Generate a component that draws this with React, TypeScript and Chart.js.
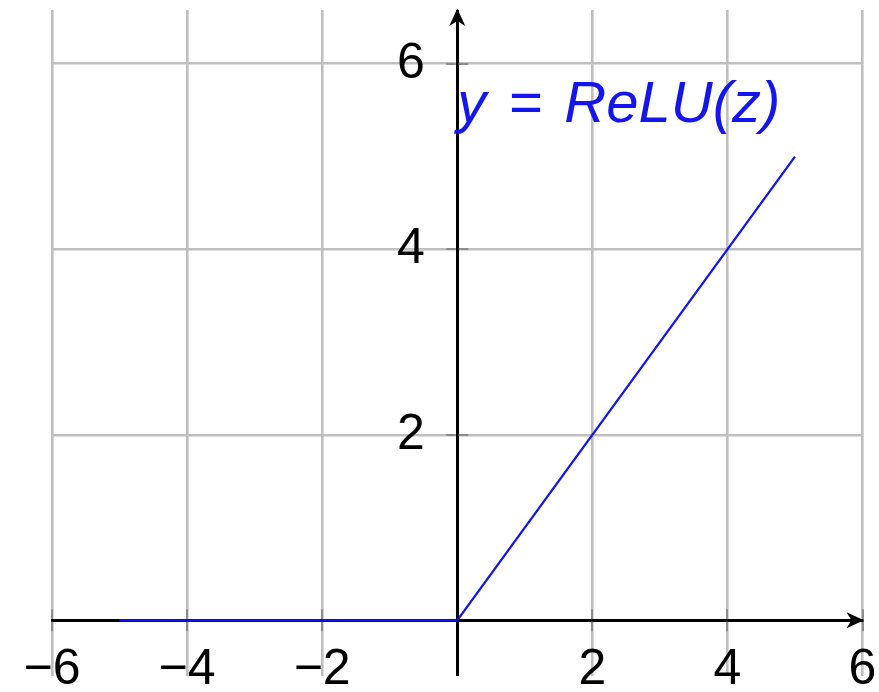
import { useEffect, useRef } from 'react';
import { Chart, registerables } from 'chart.js';

Chart.register(...registerables);

// ReLU curve: flat at zero for negative inputs, identity for positive ones
const reluZ = [-5, 0, 5];
const reluY = [0, 0, 5];

// axis ranges and tick values
const xRange = [-6, 6];
const yRange = [-0.6, 6.58];
const xTickValues = [-6, -4, -2, 0, 2, 4, 6];
const yTickValues = [0, 2, 4, 6];

// y tick labels sit just left of the vertical axis, at this z value
const yLabelColumn = -0.48;

// curve annotation, anchored at the left end of its baseline (data units)
const curveLabel = 'y = ReLU(z)';
const curveLabelAt = [0, 5.37];

const BLUE = '#1515ee';
const GRID = '#bfbfbf';
const TICK_MARK = '#8c8c8c';
const AXIS = '#000';
const AXIS_WIDTH = 3;
const TICK_HALF = 11;
const FONT_FAMILY = "'Liberation Sans', Arial, sans-serif";

const formatTick = (v: number) => (v === 0 ? '' : v < 0 ? '\u2212' + Math.abs(v) : String(v));

const zeroPadding = (scale: any) => {
  scale.paddingLeft = 0;
  scale.paddingRight = 0;
  scale.paddingTop = 0;
  scale.paddingBottom = 0;
};

function drawArrowHead(ctx: CanvasRenderingContext2D, x: number, y: number, angle: number) {
  ctx.save();
  ctx.translate(x, y);
  ctx.rotate(angle);
  ctx.beginPath();
  ctx.moveTo(1.5, 0);
  ctx.lineTo(-16, -8);
  ctx.lineTo(-11, 0);
  ctx.lineTo(-16, 8);
  ctx.closePath();
  ctx.fill();
  ctx.restore();
}

// tick marks centred on both axes, leaving the axis line itself untouched
const axisTickMarks = {
  id: 'axisTickMarks',
  beforeDatasetsDraw(chart: any) {
    const { ctx, scales } = chart;
    const x0 = scales.x.getPixelForValue(0);
    const y0 = scales.y.getPixelForValue(0);
    const gap = AXIS_WIDTH / 2;
    ctx.save();
    ctx.strokeStyle = TICK_MARK;
    ctx.lineWidth = 2;
    ctx.beginPath();
    scales.x.ticks.forEach((t: any) => {
      if (t.value === 0) return;
      const px = Math.round(scales.x.getPixelForValue(t.value));
      ctx.moveTo(px, y0 - TICK_HALF);
      ctx.lineTo(px, y0 - gap);
      ctx.moveTo(px, y0 + gap);
      ctx.lineTo(px, y0 + TICK_HALF);
    });
    scales.y.ticks.forEach((t: any) => {
      if (t.value === 0) return;
      const py = Math.round(scales.y.getPixelForValue(t.value));
      ctx.moveTo(x0 - TICK_HALF, py);
      ctx.lineTo(x0 - gap, py);
      ctx.moveTo(x0 + gap, py);
      ctx.lineTo(x0 + TICK_HALF, py);
    });
    ctx.stroke();
    ctx.restore();
  },
};

const axisDecorations = {
  id: 'axisDecorations',
  afterDraw(chart: any) {
    const { ctx, chartArea, scales } = chart;
    const x0 = scales.x.getPixelForValue(0);
    const y0 = scales.y.getPixelForValue(0);
    ctx.save();
    ctx.fillStyle = AXIS;
    drawArrowHead(ctx, chartArea.right, y0, 0);
    drawArrowHead(ctx, x0, chartArea.top, -Math.PI / 2);

    ctx.font = `italic 58px ${FONT_FAMILY}`;
    ctx.fillStyle = BLUE;
    ctx.textAlign = 'left';
    ctx.textBaseline = 'alphabetic';
    (ctx as any).wordSpacing = '6px';
    ctx.fillText(
      curveLabel,
      scales.x.getPixelForValue(curveLabelAt[0]),
      scales.y.getPixelForValue(curveLabelAt[1])
    );
    ctx.restore();
  },
};

export default function App() {
  const canvasRef = useRef<HTMLCanvasElement>(null);

  useEffect(() => {
    const canvas = canvasRef.current;
    if (!canvas) return;
    const chart = new Chart(canvas, {
      type: 'scatter',
      data: {
        datasets: [
          {
            data: reluZ.map((z, i) => ({ x: z, y: reluY[i] })),
            showLine: true,
            borderColor: BLUE,
            borderWidth: 2.3,
            pointRadius: 0,
            fill: false,
          },
        ],
      },
      options: {
        responsive: false,
        animation: false,
        devicePixelRatio: 1,
        layout: { padding: { left: 52, right: 16.5, top: 10, bottom: 16 } },
        plugins: { legend: { display: false }, tooltip: { enabled: false } },
        scales: {
          x: {
            type: 'linear',
            position: { y: 0 },
            min: xRange[0],
            max: xRange[1],
            afterBuildTicks: (s: any) => {
              s.ticks = xTickValues.map((v) => ({ value: v }));
            },
            afterFit: zeroPadding,
            grid: {
              z: -1,
              // the vertical grid line at z = 0 is the y axis
              color: (c: any) => (c.tick && c.tick.value === 0 ? AXIS : GRID),
              lineWidth: (c: any) => (c.tick && c.tick.value === 0 ? AXIS_WIDTH : 2.6),
              drawTicks: false,
            },
            border: { display: true, color: AXIS, width: AXIS_WIDTH },
            ticks: {
              color: '#000',
              padding: 25,
              maxRotation: 0,
              autoSkip: false,
              font: { family: FONT_FAMILY, size: 50, lineHeight: 1 },
              callback: (v: any) => formatTick(Number(v)),
            },
          },
          y: {
            type: 'linear',
            position: { x: yLabelColumn },
            min: yRange[0],
            max: yRange[1],
            afterBuildTicks: (s: any) => {
              s.ticks = yTickValues.map((v) => ({ value: v }));
            },
            afterFit: zeroPadding,
            grid: {
              z: -2,
              color: GRID,
              lineWidth: 2.6,
              drawTicks: false,
            },
            border: { display: false },
            ticks: {
              color: '#000',
              padding: 0,
              autoSkip: false,
              font: { family: FONT_FAMILY, size: 50, lineHeight: 1 },
              callback: (v: any) => formatTick(Number(v)),
            },
          },
        },
      },
      plugins: [axisTickMarks, axisDecorations],
    } as any);
    return () => chart.destroy();
  }, []);

  return (
    <div style={{ position: 'fixed', left: 0, top: 0, width: 879, height: 692, background: '#fff' }}>
      <canvas ref={canvasRef} width={879} height={692} style={{ display: 'block' }} />
    </div>
  );
}
